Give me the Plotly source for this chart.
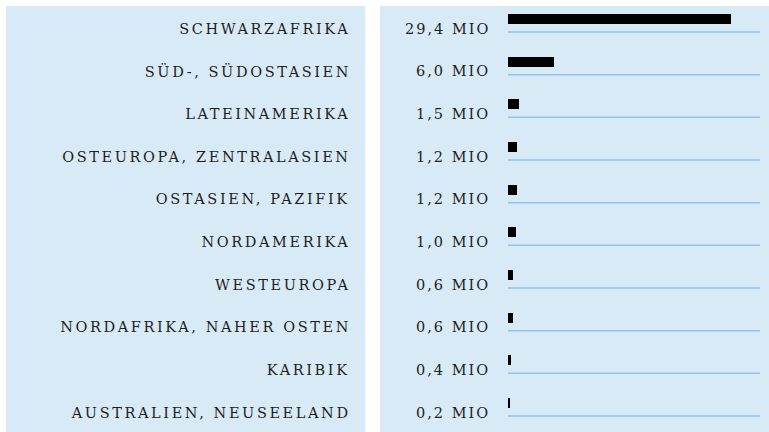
import plotly.graph_objects as go

regions = ["SCHWARZAFRIKA", "SÜD-, SÜDOSTASIEN", "LATEINAMERIKA", "OSTEUROPA, ZENTRALASIEN",
           "OSTASIEN, PAZIFIK", "NORDAMERIKA", "WESTEUROPA", "NORDAFRIKA, NAHER OSTEN",
           "KARIBIK", "AUSTRALIEN, NEUSEELAND"]
values = [29.4, 6.0, 1.5, 1.2, 1.2, 1.0, 0.6, 0.6, 0.4, 0.2]
value_labels = ["29,4 MIO", "6,0 MIO", "1,5 MIO", "1,2 MIO", "1,2 MIO",
                "1,0 MIO", "0,6 MIO", "0,6 MIO", "0,4 MIO", "0,2 MIO"]

W, H = 769, 432
BG = "#d7eaf6"
LINE = "#8ec4ee"
TXT = "#1e1e1e"
FONT = "DejaVu Serif"

rows = list(range(len(regions)))
XMAX = 33.2
bar_off = -0.305
bar_w = 0.234

LAB_SP = 2.6
VAL_SP = 2.0

fig = go.Figure()

# baselines
for i in rows:
    fig.add_trace(go.Scatter(x=[0, XMAX], y=[i, i], mode="lines",
                             line=dict(color=LINE, width=1.5),
                             hoverinfo="skip", showlegend=False))

fig.add_trace(go.Bar(x=values, y=[i + bar_off for i in rows], orientation="h",
                     width=bar_w, marker=dict(color="#000000", line=dict(width=0)),
                     showlegend=False, hovertemplate="%{x}<extra></extra>"))

shapes = [
    dict(type="rect", xref="paper", yref="paper", x0=6 / W, x1=365 / W, y0=0, y1=1 - 6 / H,
         fillcolor=BG, line=dict(width=0), layer="below"),
    dict(type="rect", xref="paper", yref="paper", x0=380 / W, x1=1, y0=0, y1=1 - 6 / H,
         fillcolor=BG, line=dict(width=0), layer="below"),
]

annotations = []
for i, (r, v) in enumerate(zip(regions, value_labels)):
    annotations.append(dict(x=(350 + LAB_SP) / W, xref="paper", y=i - 0.08, yref="y", text=r,
                            xanchor="right", yanchor="middle", align="right", showarrow=False,
                            font=dict(family=FONT, size=14.5, color=TXT)))
    annotations.append(dict(x=(490 + VAL_SP) / W, xref="paper", y=i - 0.08, yref="y", text=v,
                            xanchor="right", yanchor="middle", align="right", showarrow=False,
                            font=dict(family=FONT, size=14.5, color=TXT)))

fig.update_layout(
    width=W, height=H,
    margin=dict(l=0, r=0, t=0, b=0),
    paper_bgcolor="white", plot_bgcolor="rgba(0,0,0,0)",
    xaxis=dict(domain=[508 / W, 760 / W], range=[0, XMAX], visible=False, fixedrange=True),
    yaxis=dict(domain=[0, 1], range=[9.375, -0.75], visible=False, fixedrange=True),
    shapes=shapes, annotations=annotations, bargap=0,
)

post = """
document.body.style.margin = '0px';
document.body.style.overflow = 'hidden';
var anns = document.querySelectorAll('.annotation-text');
anns.forEach(function(t) {
  var s = t.textContent.indexOf('MIO') >= 0 ? '%spx' : '%spx';
  t.style.letterSpacing = s;
});
""" % (VAL_SP, LAB_SP)

fig.write_html("out.html", post_script=post, config={"displayModeBar": False})
